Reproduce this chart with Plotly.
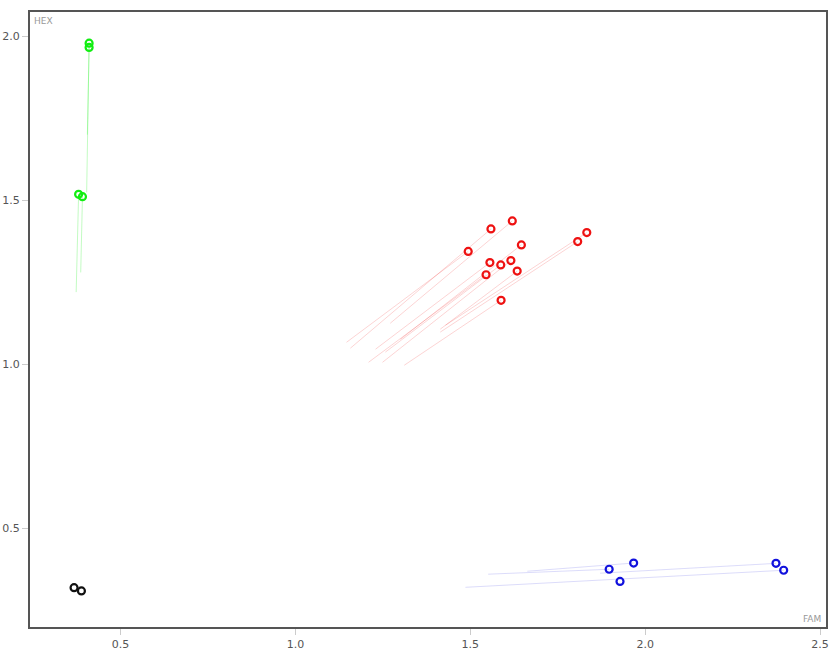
import plotly.graph_objects as go

# ---- data ----
green_x = [0.410, 0.410, 0.380, 0.391]
green_y = [1.979, 1.966, 1.518, 1.511]
green_tail_x = [0.403, 0.405, 0.373, 0.386]
green_tail_y = [1.524, 1.700, 1.220, 1.280]

red_x = [1.559, 1.620, 1.494, 1.646, 1.556, 1.587, 1.616, 1.545, 1.634, 1.588, 1.807, 1.833]
red_y = [1.4125, 1.437, 1.344, 1.364, 1.310, 1.303, 1.316, 1.273, 1.284, 1.195, 1.374, 1.4015]
red_tail_x = [1.157, 1.271, 1.146, 1.300, 1.229, 1.257, 1.249, 1.209, 1.414, 1.311, 1.414, 1.429]
red_tail_y = [1.049, 1.125, 1.067, 1.076, 1.046, 1.037, 1.006, 1.006, 1.107, 0.997, 1.098, 1.119]

blue_x = [1.967, 1.897, 1.928, 2.374, 2.396]
blue_y = [0.394, 0.375, 0.338, 0.393, 0.372]
blue_tail_x = [1.663, 1.551, 1.928, 1.871, 1.486]
blue_tail_y = [0.369, 0.360, 0.338, 0.363, 0.320]

black_x = [0.367, 0.388]
black_y = [0.319, 0.309]

x_title = "FAM"
y_title = "HEX"

groups = [
    (green_x, green_y, green_tail_x, green_tail_y, "#11ee11", "rgba(17,238,17,0.25)"),
    (red_x, red_y, red_tail_x, red_tail_y, "#ee1111", "rgba(238,17,17,0.18)"),
    (blue_x, blue_y, blue_tail_x, blue_tail_y, "#1111dd", "rgba(17,17,221,0.15)"),
    (black_x, black_y, None, None, "#111111", None),
]

fig = go.Figure()
for gx, gy, tx, ty, col, tcol in groups:
    if tx is not None:
        lx, ly = [], []
        for a, b, c, d in zip(tx, ty, gx, gy):
            lx += [a, c, None]
            ly += [b, d, None]
        fig.add_trace(go.Scatter(x=lx, y=ly, mode="lines",
                                 line=dict(color=tcol, width=1),
                                 hoverinfo="skip", showlegend=False))
for gx, gy, tx, ty, col, tcol in groups:
    fig.add_trace(go.Scatter(x=gx, y=gy, mode="markers",
                             marker=dict(symbol="circle-open", size=7,
                                         color=col, line=dict(width=2.2, color=col)),
                             showlegend=False))

axis_common = dict(showgrid=False, zeroline=False, ticks="outside", ticklen=6,
                   tickcolor="#cccccc", automargin=False,
                   tickfont=dict(family="DejaVu Sans", size=11, color="#555555"),
                   showline=True, linecolor="#555555", linewidth=2, mirror=True)

fig.update_xaxes(range=[0.241, 2.517], tickvals=[0.5, 1.0, 1.5, 2.0, 2.5],
                 ticktext=["0.5", "1.0", "1.5", "2.0", "2.5"], **axis_common)
fig.update_yaxes(range=[0.199, 2.074], tickvals=[0.5, 1.0, 1.5, 2.0],
                 ticktext=["0.5", "1.0", "1.5", "2.0"], **axis_common)

fig.add_annotation(text=y_title, xref="paper", yref="paper", x=0, y=1,
                   xanchor="left", yanchor="top", xshift=2, yshift=-2, showarrow=False,
                   font=dict(family="DejaVu Sans", size=9, color="#999999"))
fig.add_annotation(text=x_title, xref="paper", yref="paper", x=1, y=0,
                   xanchor="right", yanchor="bottom", xshift=-3, yshift=1, showarrow=False,
                   font=dict(family="DejaVu Sans", size=9, color="#999999"))

fig.update_layout(width=833, height=664, margin=dict(l=30, r=7, t=12, b=37),
                  paper_bgcolor="white", plot_bgcolor="white")

fig.write_html("out.html", config={"displayModeBar": False},
               post_script="document.body.style.margin='0';document.body.style.overflow='hidden';")
